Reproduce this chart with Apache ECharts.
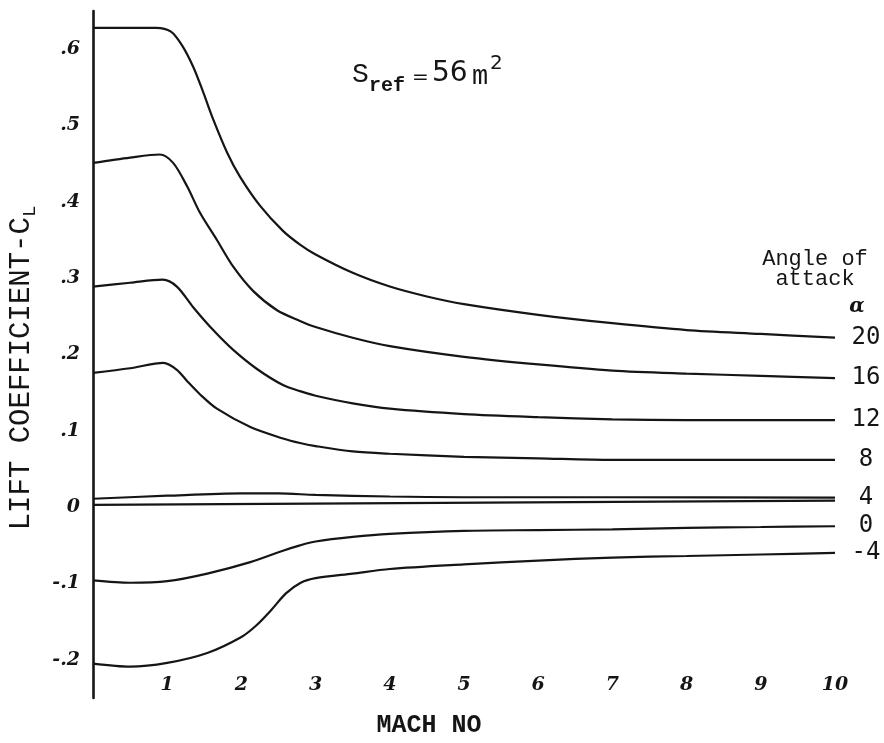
<!DOCTYPE html>
<html>
<head>
<meta charset="utf-8">
<script src="https://cdn.jsdelivr.net/npm/echarts@6/dist/echarts.min.js"></script>
<style>
  html, body { margin: 0; padding: 0; background: #ffffff; }
  #chart { width: 884px; height: 743px; }
</style>
</head>
<body>
<div id="chart"></div>
<script>
// Lift coefficient vs Mach number for several angles of attack (S_ref = 56 m^2)

const machTicks = [1, 2, 3, 4, 5, 6, 7, 8, 9, 10];
const clTickLabels = { '-2': '-.2', '-1': '-.1', '0': '0', '1': '.1', '2': '.2', '3': '.3', '4': '.4', '5': '.5', '6': '.6' };
const alphaLabels = ['20', '16', '12', '8', '4', '0', '-4'];

// [Mach, C_L] pairs for each angle of attack (deg)
const clAlpha20 = [
  [0, 0.628], [0.5, 0.628], [0.85, 0.628], [1.05, 0.623], [1.2, 0.605], [1.35, 0.577],
  [1.48, 0.545], [1.62, 0.508], [1.81, 0.464], [1.98, 0.433], [2.25, 0.395], [2.56, 0.362],
  [2.79, 0.344], [3, 0.331], [3.5, 0.307], [4, 0.289], [4.5, 0.276], [5, 0.266],
  [6, 0.252], [7, 0.241], [8, 0.232], [9, 0.227], [10, 0.222]
];
const clAlpha16 = [
  [0, 0.451], [0.5, 0.458], [0.9, 0.462], [1.08, 0.451], [1.27, 0.420], [1.44, 0.386],
  [1.67, 0.350], [1.89, 0.315], [2.16, 0.283], [2.48, 0.258], [2.79, 0.244], [3, 0.236],
  [3.5, 0.222], [4, 0.211], [5, 0.197], [6, 0.187], [7, 0.179], [8, 0.175], [9, 0.172], [10, 0.169]
];
const clAlpha12 = [
  [0, 0.289], [0.5, 0.294], [0.94, 0.298], [1.13, 0.289], [1.35, 0.262], [1.62, 0.232],
  [1.89, 0.206], [2.21, 0.181], [2.56, 0.160], [2.79, 0.152], [3, 0.146], [3.5, 0.136],
  [4, 0.129], [5, 0.122], [6, 0.118], [7, 0.115], [8, 0.114], [9, 0.114], [10, 0.114]
];
const clAlpha8 = [
  [0, 0.176], [0.5, 0.182], [0.95, 0.189], [1.13, 0.180], [1.27, 0.165], [1.44, 0.148],
  [1.67, 0.129], [2.12, 0.105], [2.56, 0.090], [2.79, 0.084], [3, 0.080], [3.5, 0.073],
  [4, 0.070], [5, 0.066], [6, 0.064], [7, 0.062], [8, 0.062], [9, 0.062], [10, 0.062]
];
const clAlpha4 = [
  [0, 0.011], [1, 0.015], [2, 0.018], [2.5, 0.018], [3, 0.016], [4, 0.014],
  [5, 0.013], [7, 0.013], [10, 0.0125]
];
const clAlpha0 = [
  [0, -0.096], [0.5, -0.099], [1, -0.097], [1.54, -0.087], [2.12, -0.072], [2.56, -0.057],
  [2.79, -0.050], [3, -0.045], [3.5, -0.039], [4, -0.035], [5, -0.031], [6, -0.030],
  [7, -0.029], [8, -0.027], [9, -0.026], [10, -0.025]
];
const clAlphaMinus4 = [
  [0, -0.205], [0.5, -0.209], [1, -0.204], [1.54, -0.191], [2, -0.170], [2.2, -0.155],
  [2.4, -0.135], [2.6, -0.113], [2.8, -0.099], [3, -0.093], [3.5, -0.087], [4, -0.081],
  [5, -0.075], [6, -0.070], [7, -0.066], [8, -0.064], [9, -0.062], [10, -0.060]
];
// C_L = 0 reference line
const clZeroLine = [[0, 0.003], [10, 0.0085]];

const curveData = [clAlpha20, clAlpha16, clAlpha12, clAlpha8, clAlpha4, clAlpha0, clAlphaMinus4];

const INK = '#151515';
const typeFont = '"Liberation Mono", "DejaVu Sans Mono", monospace';
const handFont = '"DejaVu Serif", serif';

const chart = echarts.init(document.getElementById('chart'), null, { renderer: 'canvas' });

const series = curveData.map((data, i) => ({
  name: alphaLabels[i],
  type: 'line',
  data: data,
  showSymbol: false,
  smooth: 0.3,
  lineStyle: { color: INK, width: 2.2 },
  silent: true
}));
series.push({
  name: 'zero',
  type: 'line',
  data: clZeroLine,
  showSymbol: false,
  lineStyle: { color: INK, width: 2.2 },
  silent: true
});

chart.setOption({
  animation: false,
  backgroundColor: '#ffffff',
  grid: { left: 93, right: 49, top: 11, bottom: 45 },
  xAxis: {
    type: 'value',
    min: 0,
    max: 10,
    interval: 1,
    axisLine: { show: false },
    axisTick: { show: false },
    splitLine: { show: false },
    axisLabel: {
      inside: true,
      margin: 3,
      color: INK,
      fontFamily: handFont,
      fontStyle: 'italic',
      fontWeight: 'bold',
      fontSize: 19,
      formatter: v => (machTicks.indexOf(v) >= 0 ? String(v) : '')
    }
  },
  yAxis: {
    type: 'value',
    min: -0.25,
    max: 0.65,
    interval: 0.05,
    axisLine: { show: true, onZero: false, lineStyle: { color: INK, width: 2.6 } },
    axisTick: { show: false },
    splitLine: { show: false },
    axisLabel: {
      margin: 13,
      color: INK,
      fontFamily: handFont,
      fontStyle: 'italic',
      fontWeight: 'bold',
      fontSize: 19,
      formatter: v => {
        const k = Math.round(v * 100);
        if (k % 10 !== 0) return '';
        return clTickLabels[String(k / 10)] || '';
      }
    }
  },
  series: series
});

// Curve labels at the right-hand end of each line
const curveLabels = curveData.map((data, i) => {
  const end = chart.convertToPixel({ gridIndex: 0 }, data[data.length - 1]);
  return {
    type: 'text',
    x: 866,
    y: end[1],
    style: {
      text: alphaLabels[i],
      fill: INK,
      font: '24px "DejaVu Sans Mono", monospace',
      textAlign: 'center',
      textVerticalAlign: 'middle'
    },
    silent: true
  };
});

const staticText = [
  // axis titles
  {
    type: 'text',
    x: 21,
    y: 368,
    rotation: Math.PI / 2,
    style: {
      text: '{a|LIFT COEFFICIENT-C}{b|L}',
      textAlign: 'center',
      textVerticalAlign: 'middle',
      rich: {
        a: { fontFamily: typeFont, fontSize: 29, fill: INK, lineHeight: 36, verticalAlign: 'middle' },
        b: { fontFamily: typeFont, fontSize: 19, fill: INK, lineHeight: 36, verticalAlign: 'bottom' }
      }
    },
    silent: true
  },
  {
    type: 'text',
    x: 429,
    y: 726,
    style: {
      text: 'MACH NO',
      fill: INK,
      font: 'bold 25px ' + typeFont,
      textAlign: 'center',
      textVerticalAlign: 'middle'
    },
    silent: true
  },
  // reference area note
  { type: 'text', x: 352, y: 75, style: { text: 'S', fill: INK, font: '28px ' + typeFont, textAlign: 'left', textVerticalAlign: 'middle' }, silent: true },
  { type: 'text', x: 369, y: 86, style: { text: 'ref', fill: INK, font: 'bold 20px ' + typeFont, textAlign: 'left', textVerticalAlign: 'middle' }, silent: true },
  { type: 'text', x: 412, y: 78, style: { text: '=', fill: INK, font: '20px "DejaVu Sans", sans-serif', textAlign: 'left', textVerticalAlign: 'middle' }, silent: true },
  { type: 'text', x: 432, y: 74, style: { text: '56', fill: INK, font: '28px "DejaVu Sans", sans-serif', textAlign: 'left', textVerticalAlign: 'middle' }, silent: true },
  { type: 'text', x: 472, y: 77, style: { text: 'm', fill: INK, font: '27px ' + typeFont, textAlign: 'left', textVerticalAlign: 'middle' }, silent: true },
  { type: 'text', x: 490, y: 64, style: { text: '2', fill: INK, font: '20px "DejaVu Sans", sans-serif', textAlign: 'left', textVerticalAlign: 'middle' }, silent: true },
  // heading for the curve labels
  { type: 'text', x: 815, y: 259, style: { text: 'Angle of', fill: INK, font: '22px ' + typeFont, textAlign: 'center', textVerticalAlign: 'middle' }, silent: true },
  { type: 'text', x: 815, y: 279, style: { text: 'attack', fill: INK, font: '22px ' + typeFont, textAlign: 'center', textVerticalAlign: 'middle' }, silent: true },
  { type: 'text', x: 857, y: 307, style: { text: 'α', fill: INK, font: 'italic bold 20px ' + handFont, textAlign: 'center', textVerticalAlign: 'middle' }, silent: true }
];

chart.setOption({ graphic: staticText.concat(curveLabels) });
</script>
</body>
</html>
